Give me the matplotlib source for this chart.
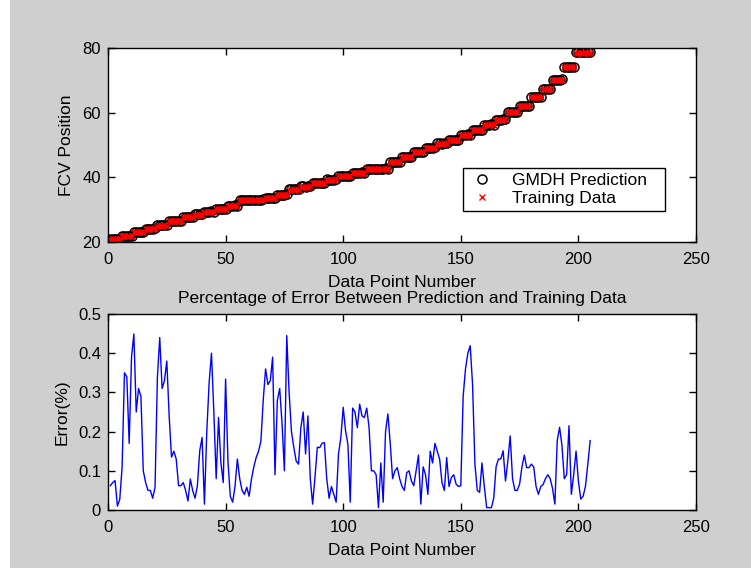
import matplotlib
matplotlib.use("Agg")
import matplotlib.pyplot as plt
from matplotlib.patches import Rectangle
import numpy as np

plt.rcParams['font.family'] = ['Liberation Sans', 'DejaVu Sans']

# ---- data ----
training = [
    20.8, 20.8, 20.8, 20.8, 20.9,
    21.8, 21.8, 21.8, 21.9, 21.8,
    23.0, 23.0, 23.0, 23.1, 23.0,
    24.1, 24.1, 24.1, 24.1, 24.2,
    25.1, 25.1, 25.1, 25.2, 25.1,
    26.5, 26.5, 26.5, 26.5, 26.6, 26.5,
    27.7, 27.7, 27.7, 27.8, 27.7,
    28.5, 28.5, 28.5, 28.5,
    29.3, 29.3, 29.3, 29.4, 29.3,
    30.1, 30.1, 30.1, 30.1, 30.2,
    31.2, 31.2, 31.2, 31.3, 31.2,
    33.0, 33.0, 33.0, 33.0, 33.0, 33.0, 33.0, 33.0, 33.0, 33.0, 33.1,
    33.5, 33.5, 33.5, 33.6, 33.5,
    34.5, 34.5, 34.5, 34.5, 34.6,
    36.2, 36.2, 36.2, 36.3, 36.2,
    37.1, 37.1, 37.1, 37.1, 37.2,
    38.1, 38.1, 38.1, 38.1, 38.2, 38.1,
    39.3, 39.3, 39.3, 39.3, 39.4,
    40.3, 40.3, 40.3, 40.3, 40.4, 40.3,
    41.3, 41.3, 41.3, 41.3, 41.4, 41.3,
    42.6, 42.6, 42.6, 42.6, 42.6, 42.6, 42.6, 42.6, 42.7, 42.6,
    44.7, 44.7, 44.7, 44.8, 44.7,
    46.3, 46.3, 46.3, 46.3, 46.4,
    47.8, 47.8, 47.8, 47.9, 47.8,
    49.1, 49.1, 49.1, 49.1, 49.2,
    50.4, 50.4, 50.4, 50.5, 50.4,
    51.5, 51.5, 51.5, 51.5, 51.6,
    53.0, 53.0, 53.0, 53.1, 53.0,
    54.6, 54.6, 54.6, 54.6, 54.7,
    56.3, 56.3, 56.3, 56.4, 56.3,
    57.8, 57.8, 57.8, 57.8, 57.9,
    60.2, 60.2, 60.2, 60.3, 60.2,
    62.0, 62.0, 62.0, 62.0, 62.1,
    64.7, 64.7, 64.7, 64.8, 64.7,
    67.2, 67.2, 67.2, 67.3,
    70.1, 70.1, 70.1, 70.1, 70.2,
    74.0, 74.0, 74.0, 74.1, 74.0,
    78.6, 78.6, 78.6, 78.6, 78.7, 78.6, 78.6,
]

error_pct = [
    0.062, 0.070, 0.075, 0.010, 0.027, 0.110, 0.350, 0.340, 0.170, 0.390,
    0.449, 0.250, 0.310, 0.290, 0.100, 0.070, 0.050, 0.050, 0.030, 0.058,
    0.338, 0.440, 0.310, 0.330, 0.380, 0.240, 0.135, 0.150, 0.130, 0.062,
    0.062, 0.070, 0.050, 0.023, 0.079, 0.050, 0.030, 0.062, 0.151, 0.185,
    0.015, 0.200, 0.325, 0.400, 0.250, 0.080, 0.236, 0.120, 0.070, 0.334,
    0.125, 0.035, 0.020, 0.060, 0.130, 0.080, 0.050, 0.040, 0.058, 0.035,
    0.079, 0.110, 0.134, 0.150, 0.175, 0.280, 0.360, 0.320, 0.330, 0.390,
    0.090, 0.280, 0.310, 0.220, 0.100, 0.445, 0.300, 0.200, 0.160, 0.125,
    0.117, 0.210, 0.250, 0.143, 0.240, 0.080, 0.015, 0.083, 0.160, 0.159,
    0.170, 0.172, 0.080, 0.030, 0.060, 0.040, 0.020, 0.143, 0.185, 0.262,
    0.202, 0.168, 0.020, 0.260, 0.250, 0.210, 0.270, 0.240, 0.236, 0.260,
    0.210, 0.100, 0.100, 0.090, 0.006, 0.120, 0.020, 0.200, 0.245, 0.170,
    0.080, 0.100, 0.108, 0.080, 0.060, 0.050, 0.095, 0.100, 0.074, 0.062,
    0.100, 0.140, 0.015, 0.110, 0.090, 0.040, 0.150, 0.120, 0.170, 0.150,
    0.130, 0.070, 0.050, 0.134, 0.060, 0.083, 0.090, 0.066, 0.060, 0.062,
    0.290, 0.360, 0.400, 0.419, 0.320, 0.117, 0.050, 0.045, 0.120, 0.060,
    0.006, 0.006, 0.006, 0.030, 0.110, 0.130, 0.130, 0.151, 0.074, 0.125,
    0.189, 0.080, 0.050, 0.050, 0.066, 0.110, 0.140, 0.108, 0.108, 0.117,
    0.110, 0.060, 0.040, 0.060, 0.065, 0.080, 0.090, 0.080, 0.055, 0.015,
    0.177, 0.211, 0.165, 0.080, 0.090, 0.215, 0.040, 0.090, 0.150, 0.074,
    0.028, 0.035, 0.060, 0.117, 0.177,
]

x_ticks = [0, 50, 100, 150, 200, 250]
y_ticks_top = [20, 40, 60, 80]
y_ticks_bot = [0, 0.1, 0.2, 0.3, 0.4, 0.5]
y_ticklabels_bot = ["0", "0.1", "0.2", "0.3", "0.4", "0.5"]

train = np.array(training)
err = np.array(error_pct)
idx = np.arange(1, len(train) + 1)
prediction = train * (1 + err / 100.0)

# ---- figure ----
W, H = 751, 568
fig = plt.figure(figsize=(W / 100, H / 100), dpi=100, facecolor='white')
fig.patches.append(Rectangle((10 / W, 0), 1 - 10 / W, 1, transform=fig.transFigure,
                             facecolor='#cfcfcf', edgecolor='none', zorder=-10))

FS = 12.5
TFS = 12

def style(ax):
    ax.set_facecolor('white')
    for s in ax.spines.values():
        s.set_linewidth(1.0)
        s.set_color('black')
    ax.tick_params(direction='in', length=5, width=1.0, top=True, right=True,
                   labelsize=TFS, colors='black')
    ax.tick_params(axis='x', pad=7)
    ax.tick_params(axis='y', pad=5)

ax1 = fig.add_axes([108 / W, 1 - 242 / H, 588 / W, 194 / H])
style(ax1)
ax1.plot(idx, prediction, 'o', mfc='none', mec='black', ms=6.5, mew=1.1,
         label='GMDH Prediction')
ax1.plot(idx, train, 'x', color='red', ms=5, mew=1.0, label='Training Data')
ax1.set_xlim(0, 250)
ax1.set_ylim(20, 80)
ax1.set_xticks(x_ticks)
ax1.set_yticks(y_ticks_top)
ax1.set_xlabel('Data Point Number', fontsize=FS, labelpad=6)
ax1.set_ylabel('FCV Position', fontsize=FS, labelpad=6)
leg = ax1.legend(loc='upper left', bbox_to_anchor=(0.604, 0.149, 0.343, 0.232),
                 mode='expand', fontsize=FS, frameon=True, fancybox=False,
                 edgecolor='black', facecolor='white', framealpha=1,
                 borderpad=0.3, handletextpad=0.9, labelspacing=0.15,
                 handlelength=1.6, borderaxespad=0)
leg.get_frame().set_linewidth(1.0)

ax2 = fig.add_axes([108 / W, 1 - 510 / H, 588 / W, 196 / H])
style(ax2)
ax2.plot(idx, err, '-', color='#0000ff', lw=1.0)
ax2.set_xlim(0, 250)
ax2.set_ylim(0, 0.5)
ax2.set_xticks(x_ticks)
ax2.set_yticks(y_ticks_bot)
ax2.set_yticklabels(y_ticklabels_bot)
ax2.set_xlabel('Data Point Number', fontsize=FS, labelpad=6)
ax2.set_ylabel('Error(%)', fontsize=FS, labelpad=6)
ax2.set_title('Percentage of Error Between Prediction and Training Data',
              fontsize=FS, pad=8)

fig.savefig('out.png', dpi=100, facecolor=fig.get_facecolor())
